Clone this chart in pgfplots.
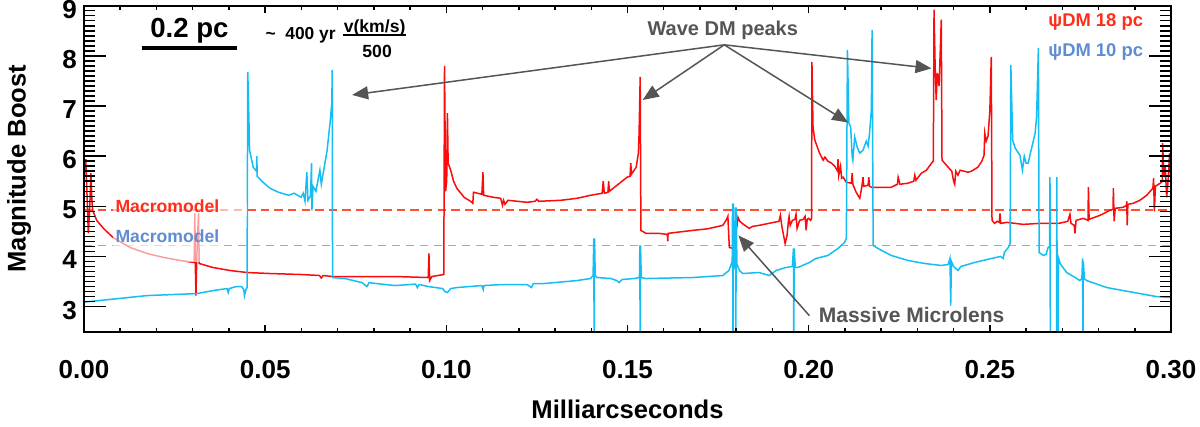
\documentclass[border=0pt]{standalone}
\usepackage{pgfplots}
\pgfplotsset{compat=1.18}
\usepackage{fontspec}
\setmainfont{Liberation Sans}
\usetikzlibrary{arrows.meta}
\definecolor{cred}{RGB}{250,12,12}
\definecolor{ccyan}{RGB}{20,190,245}
\definecolor{mred}{RGB}{255,80,50}
\definecolor{mblue}{RGB}{150,175,215}
\definecolor{lred}{RGB}{255,45,25}
\definecolor{lblue}{RGB}{95,140,210}
\definecolor{agray}{RGB}{85,85,85}
\newcommand{\fs}[1]{\fontsize{#1}{#1}\selectfont\bfseries}
\begin{document}
\begin{tikzpicture}
\useasboundingbox (-42pt,-47.65pt) rectangle (558pt,165.85pt);
% data axis
\begin{axis}[
  scale only axis, width=543.5pt, height=163pt,
  xmin=0, xmax=0.30, ymin=2.5, ymax=9.0,
  xtick=\empty, ytick=\empty,
  axis line style={line width=1.1pt},
  clip mode=individual,
]
\addplot[mred, line width=0.9pt, dash pattern=on 4.2pt off 2.6pt] coordinates {(0,4.92)(0.30,4.92)};
\addplot[mblue, line width=0.9pt, dash pattern=on 4.2pt off 2.8pt] coordinates {(0,4.22)(0.30,4.22)};

\addplot[cred, line width=0.75pt] coordinates {
(0.0000,5.58)(0.0005,5.94)(0.0008,5.30)(0.0012,4.46)(0.0016,5.00)(0.0019,5.66)(0.0022,5.10)(0.0024,4.92)(0.0035,4.72)(0.0055,4.55)(0.0080,4.38)(0.0127,4.18)(0.0174,4.06)(0.0220,3.98)(0.0265,3.92)(0.0304,3.88)(0.0306,4.86)(0.0307,3.90)(0.0309,3.22)(0.0311,3.90)(0.0316,4.86)(0.0318,3.86)(0.0356,3.78)(0.0403,3.72)(0.0450,3.68)(0.0513,3.66)(0.0600,3.64)(0.0650,3.62)(0.0655,3.57)(0.0660,3.62)(0.0686,3.60)(0.0858,3.60)(0.0950,3.58)(0.0952,4.06)(0.0954,3.52)(0.0960,3.60)(0.0993,3.64)(0.0995,7.80)(0.0998,5.30)(0.1001,5.50)(0.1003,6.86)(0.1005,5.86)(0.1012,5.72)(0.1020,5.50)(0.1029,5.36)(0.1049,5.18)(0.1067,5.10)(0.1073,5.06)(0.1075,5.28)(0.1098,5.24)(0.1101,5.68)(0.1103,5.22)(0.1130,5.18)(0.1150,5.16)(0.1155,5.02)(0.1158,5.12)(0.1162,5.04)(0.1170,5.12)(0.1223,5.08)(0.1245,5.10)(0.1250,5.14)(0.1255,5.10)(0.1316,5.12)(0.1361,5.16)(0.1398,5.22)(0.1430,5.26)(0.1433,5.50)(0.1436,5.26)(0.1446,5.28)(0.1448,5.50)(0.1450,5.30)(0.1471,5.42)(0.1499,5.58)(0.1507,5.60)(0.1509,5.86)(0.1511,5.64)(0.1524,5.78)(0.1530,6.06)(0.1532,6.46)(0.1535,7.58)(0.1537,4.52)(0.1551,4.46)(0.1587,4.46)(0.1610,4.44)(0.1611,4.30)(0.1612,4.46)(0.1634,4.48)(0.1680,4.52)(0.1720,4.55)(0.1763,4.62)(0.1772,4.72)(0.1777,4.80)(0.1781,4.18)(0.1792,4.16)(0.1800,4.50)(0.1805,4.78)(0.1810,4.70)(0.1820,4.64)(0.1836,4.56)(0.1845,4.60)(0.1863,4.62)(0.1890,4.66)(0.1918,4.70)(0.1922,4.82)(0.1926,4.60)(0.1935,4.26)(0.1940,4.40)(0.1944,4.70)(0.1946,4.80)(0.1949,4.62)(0.1955,4.72)(0.1962,4.74)(0.1965,4.84)(0.1968,4.56)(0.1975,4.72)(0.1985,4.74)(0.1990,4.80)(0.1993,4.52)(0.1996,4.74)(0.2000,4.76)(0.2005,4.72)(0.2008,4.76)(0.2009,7.88)(0.2012,6.58)(0.2017,6.32)(0.2030,6.06)(0.2040,5.92)(0.2045,5.98)(0.2053,5.90)(0.2063,5.86)(0.2072,5.80)(0.2080,5.70)(0.2081,5.94)(0.2083,5.62)(0.2088,5.80)(0.2091,5.56)(0.2095,5.58)(0.2104,5.48)(0.2118,5.46)(0.2120,5.66)(0.2122,5.44)(0.2131,5.28)(0.2141,5.16)(0.2147,5.40)(0.2150,5.58)(0.2152,5.40)(0.2164,5.42)(0.2166,5.58)(0.2168,5.40)(0.2173,5.38)(0.2228,5.38)(0.2245,5.44)(0.2247,5.58)(0.2252,5.44)(0.2274,5.46)(0.2290,5.50)(0.2293,5.62)(0.2296,5.52)(0.2311,5.66)(0.2325,5.72)(0.2339,5.86)(0.2344,5.90)(0.2346,8.92)(0.2349,7.80)(0.2352,7.12)(0.2355,7.66)(0.2360,7.40)(0.2366,8.72)(0.2368,5.92)(0.2385,5.78)(0.2395,5.70)(0.2400,5.50)(0.2403,5.44)(0.2406,5.70)(0.2412,5.62)(0.2418,5.72)(0.2440,5.68)(0.2449,5.70)(0.2467,5.78)(0.2478,5.90)(0.2484,6.02)(0.2486,6.46)(0.2490,6.30)(0.2495,6.40)(0.2500,6.90)(0.2504,7.98)(0.2506,4.72)(0.2513,4.66)(0.2520,4.70)(0.2526,4.68)(0.2528,4.86)(0.2530,4.66)(0.2547,4.68)(0.2592,4.64)(0.2638,4.66)(0.2690,4.66)(0.2715,4.70)(0.2721,4.84)(0.2724,4.66)(0.2733,4.62)(0.2735,4.46)(0.2738,4.72)(0.2758,4.76)(0.2771,4.72)(0.2772,5.38)(0.2774,4.74)(0.2804,4.82)(0.2832,4.92)(0.2840,4.94)(0.2841,5.36)(0.2843,4.70)(0.2846,4.96)(0.2868,4.98)(0.2877,5.02)(0.2878,5.10)(0.2879,4.62)(0.2881,5.04)(0.2896,5.06)(0.2914,5.12)(0.2933,5.22)(0.2950,5.36)(0.2952,5.56)(0.2954,4.90)(0.2957,5.40)(0.2970,5.46)(0.2976,5.50)(0.2977,6.26)(0.2980,5.60)(0.2984,5.80)(0.2988,5.18)(0.2992,5.50)(0.2996,6.06)(0.3000,5.50)
};

\addplot[ccyan, line width=0.75pt] coordinates {
(0.0000,3.09)(0.0174,3.22)(0.0312,3.26)(0.0356,3.32)(0.0395,3.36)(0.0398,3.28)(0.0401,3.36)(0.0420,3.40)(0.0435,3.40)(0.0441,3.34)(0.0443,3.22)(0.0447,3.34)(0.0450,3.38)(0.0452,7.68)(0.0455,6.78)(0.0457,6.12)(0.0467,5.78)(0.0476,5.70)(0.0477,6.00)(0.0478,5.60)(0.0491,5.50)(0.0513,5.36)(0.0537,5.28)(0.0565,5.22)(0.0580,5.26)(0.0599,5.18)(0.0605,5.26)(0.0610,5.10)(0.0615,5.68)(0.0618,5.12)(0.0625,5.20)(0.0628,5.86)(0.0629,4.92)(0.0632,5.40)(0.0640,5.30)(0.0651,5.72)(0.0655,5.44)(0.0671,6.12)(0.0679,6.66)(0.0684,7.06)(0.0685,7.72)(0.0686,3.58)(0.0720,3.56)(0.0767,3.48)(0.0781,3.40)(0.0787,3.48)(0.0795,3.47)(0.0858,3.42)(0.0900,3.44)(0.0915,3.45)(0.0920,3.38)(0.0925,3.44)(0.0951,3.40)(0.0990,3.36)(0.0996,3.30)(0.1003,3.28)(0.1012,3.36)(0.1029,3.38)(0.1098,3.42)(0.1102,3.34)(0.1104,3.42)(0.1154,3.44)(0.1223,3.44)(0.1235,3.38)(0.1240,3.46)(0.1270,3.46)(0.1361,3.52)(0.1398,3.56)(0.1405,3.62)(0.1407,4.36)(0.1408,2.00)(0.1409,4.36)(0.1411,3.62)(0.1416,3.58)(0.1454,3.56)(0.1470,3.52)(0.1477,3.48)(0.1485,3.54)(0.1518,3.56)(0.1533,3.58)(0.1534,4.22)(0.1535,2.00)(0.1536,4.22)(0.1538,3.58)(0.1551,3.56)(0.1680,3.58)(0.1763,3.62)(0.1780,3.72)(0.1789,3.90)(0.1790,5.06)(0.1791,2.00)(0.1792,5.06)(0.1794,3.80)(0.1797,3.90)(0.1798,4.98)(0.1799,2.00)(0.1800,4.98)(0.1802,3.85)(0.1809,3.72)(0.1818,3.66)(0.1863,3.68)(0.1891,3.62)(0.1910,3.72)(0.1937,3.78)(0.1955,3.80)(0.1958,4.16)(0.1959,2.00)(0.1960,4.16)(0.1963,3.78)(0.1970,3.78)(0.2002,3.88)(0.2020,3.96)(0.2053,4.02)(0.2081,4.16)(0.2099,4.28)(0.2104,4.36)(0.2107,8.12)(0.2111,6.66)(0.2116,6.58)(0.2120,6.00)(0.2122,5.92)(0.2127,6.38)(0.2134,6.18)(0.2141,6.06)(0.2150,6.12)(0.2159,6.30)(0.2164,6.20)(0.2168,6.46)(0.2173,6.92)(0.2175,8.52)(0.2178,4.22)(0.2191,4.16)(0.2228,4.02)(0.2274,3.92)(0.2320,3.86)(0.2366,3.82)(0.2385,3.84)(0.2390,3.96)(0.2392,3.02)(0.2394,3.90)(0.2400,3.80)(0.2412,3.72)(0.2420,3.80)(0.2458,3.88)(0.2504,3.96)(0.2530,4.00)(0.2537,3.96)(0.2540,4.08)(0.2551,4.18)(0.2556,4.26)(0.2558,7.82)(0.2563,6.32)(0.2570,6.16)(0.2583,6.02)(0.2590,5.72)(0.2595,6.00)(0.2600,5.86)(0.2606,5.86)(0.2610,6.00)(0.2616,6.18)(0.2625,6.46)(0.2629,6.78)(0.2634,8.16)(0.2636,4.08)(0.2648,4.02)(0.2655,4.04)(0.2661,4.18)(0.2665,4.20)(0.2666,5.58)(0.2667,2.00)(0.2684,2.00)(0.2685,5.58)(0.2686,2.00)(0.2688,2.00)(0.2689,3.98)(0.2694,3.86)(0.2712,3.68)(0.2740,3.56)(0.2748,3.52)(0.2754,3.56)(0.2756,3.96)(0.2757,2.00)(0.2758,3.90)(0.2761,3.56)(0.2767,3.52)(0.2823,3.38)(0.2868,3.32)(0.2914,3.26)(0.2960,3.20)(0.3000,3.18)
};

% faded boxes behind the macromodel labels
\fill[white, fill opacity=0.6] (axis cs:0.008,3.88) rectangle (axis cs:0.0381,5.16);
\fill[white, fill opacity=0.6] (axis cs:0.0381,4.80) rectangle (axis cs:0.045,5.05);
\node[anchor=base west, inner sep=0pt, text=lred, font=\fs{8.8}] at (axis cs:0.0086,4.87) {Macromodel};
\node[anchor=base west, inner sep=0pt, text=lblue, font=\fs{8.8}] at (axis cs:0.0086,4.28) {Macromodel};

% scale bar
\node[anchor=base, inner sep=0pt, font=\fs{13.8}] at (axis cs:0.0291,8.37) {0.2 pc};
\draw[line width=2pt] (axis cs:0.0159,8.154) -- (axis cs:0.0423,8.154);
\node[anchor=base west, inner sep=0pt, font=\fs{8.7}] at (axis cs:0.0500,8.32) {\textasciitilde\ \ 400 yr};
\node[anchor=base, inner sep=0pt, font=\fs{8.8}] at (axis cs:0.0802,8.47) {v(km/s)};
\draw[line width=1pt] (axis cs:0.0715,8.42) -- (axis cs:0.0889,8.42);
\node[anchor=base, inner sep=0pt, font=\fs{8.8}] at (axis cs:0.0809,7.96) {500};

% legend texts
\node[anchor=base east, inner sep=0pt, text=lred, font=\fs{9.2}] at (axis cs:0.2924,8.58) {ψDM 18 pc};
\node[anchor=base east, inner sep=0pt, text=lblue, font=\fs{9.2}] at (axis cs:0.2924,7.99) {ψDM 10 pc};

% annotations
\node[anchor=base, inner sep=0pt, text=agray, font=\fs{10}] at (axis cs:0.1763,8.40) {Wave DM peaks};
\draw[agray, line width=0.75pt, -{Triangle[length=8pt,width=6.5pt]}] (axis cs:0.1767,8.22) -- (axis cs:0.0740,7.22);
\draw[agray, line width=0.75pt, -{Triangle[length=8pt,width=6.5pt]}] (axis cs:0.1767,8.22) -- (axis cs:0.1542,7.12);
\draw[agray, line width=0.75pt, -{Triangle[length=8pt,width=6.5pt]}] (axis cs:0.1767,8.22) -- (axis cs:0.2109,6.67);
\draw[agray, line width=0.75pt, -{Triangle[length=8pt,width=6.5pt]}] (axis cs:0.1767,8.22) -- (axis cs:0.2339,7.75);
\node[anchor=base west, inner sep=0pt, text=agray, font=\fs{10.5}] at (axis cs:0.2027,2.686) {Massive Microlens};
\draw[agray, line width=0.75pt, -{Triangle[length=8pt,width=6.5pt]}] (axis cs:0.2002,2.82) -- (axis cs:0.1806,4.42);
\end{axis}
% x axis: ticks, tick labels and label
\begin{axis}[
  scale only axis, width=543.5pt, height=163pt,
  xmin=0, xmax=0.30, ymin=2.5, ymax=9.0,
  hide y axis,
  xtick={0,0.05,0.10,0.15,0.20,0.25,0.30},
  xticklabels={0.00,0.05,0.10,0.15,0.20,0.25,0.30},
  minor x tick num=4,
  tick align=inside,
  axis on top,
  axis line style={line width=1.1pt},
  tick style={line width=0.75pt, black},
  major tick length=3.5pt, minor tick length=2pt,
  ticklabel style={font=\fs{13}},
  xticklabel style={yshift=-10.8pt},
  xlabel={Milliarcseconds},
  xlabel style={font=\fs{12.8}, at={(axis description cs:0.5,-0.2387)}, anchor=center},
]
\end{axis}
% y tick marks only
\begin{axis}[
  scale only axis, width=543.5pt, height=163pt,
  xmin=0, xmax=0.30, ymin=2.5, ymax=9.0,
  xtick=\empty,
  ytick={3,4,5,6,7,8,9},
  minor y tick num=9,
  tick align=inside,
  axis line style={line width=1.1pt},
  tick style={line width=0.75pt, black},
  major tick length=11pt, minor tick length=5.5pt,
  yticklabel style={opacity=0},
  clip mode=individual,
]
\addplot[draw=none] coordinates {(0,3)(0.3,8)};
\end{axis}
% y tick labels and label
\begin{axis}[
  scale only axis, width=543.5pt, height=163pt,
  xmin=0, xmax=0.30, ymin=2.5, ymax=9.0,
  xtick=\empty,
  ytick={3,4,5,6,7,8,9},
  yticklabels={3,4,5,6,7,8,9},
  tick align=inside,
  axis line style={line width=1.1pt},
  major tick length=0pt, minor tick length=0pt,
  yticklabel style={font=\fs{13}, yshift=-1.75pt},
  ylabel={Magnitude Boost},
  ylabel style={font=\fs{12.8}, at={(axis description cs:-0.0598,0.5)}, anchor=center},
]
\end{axis}
\end{tikzpicture}
\end{document}
